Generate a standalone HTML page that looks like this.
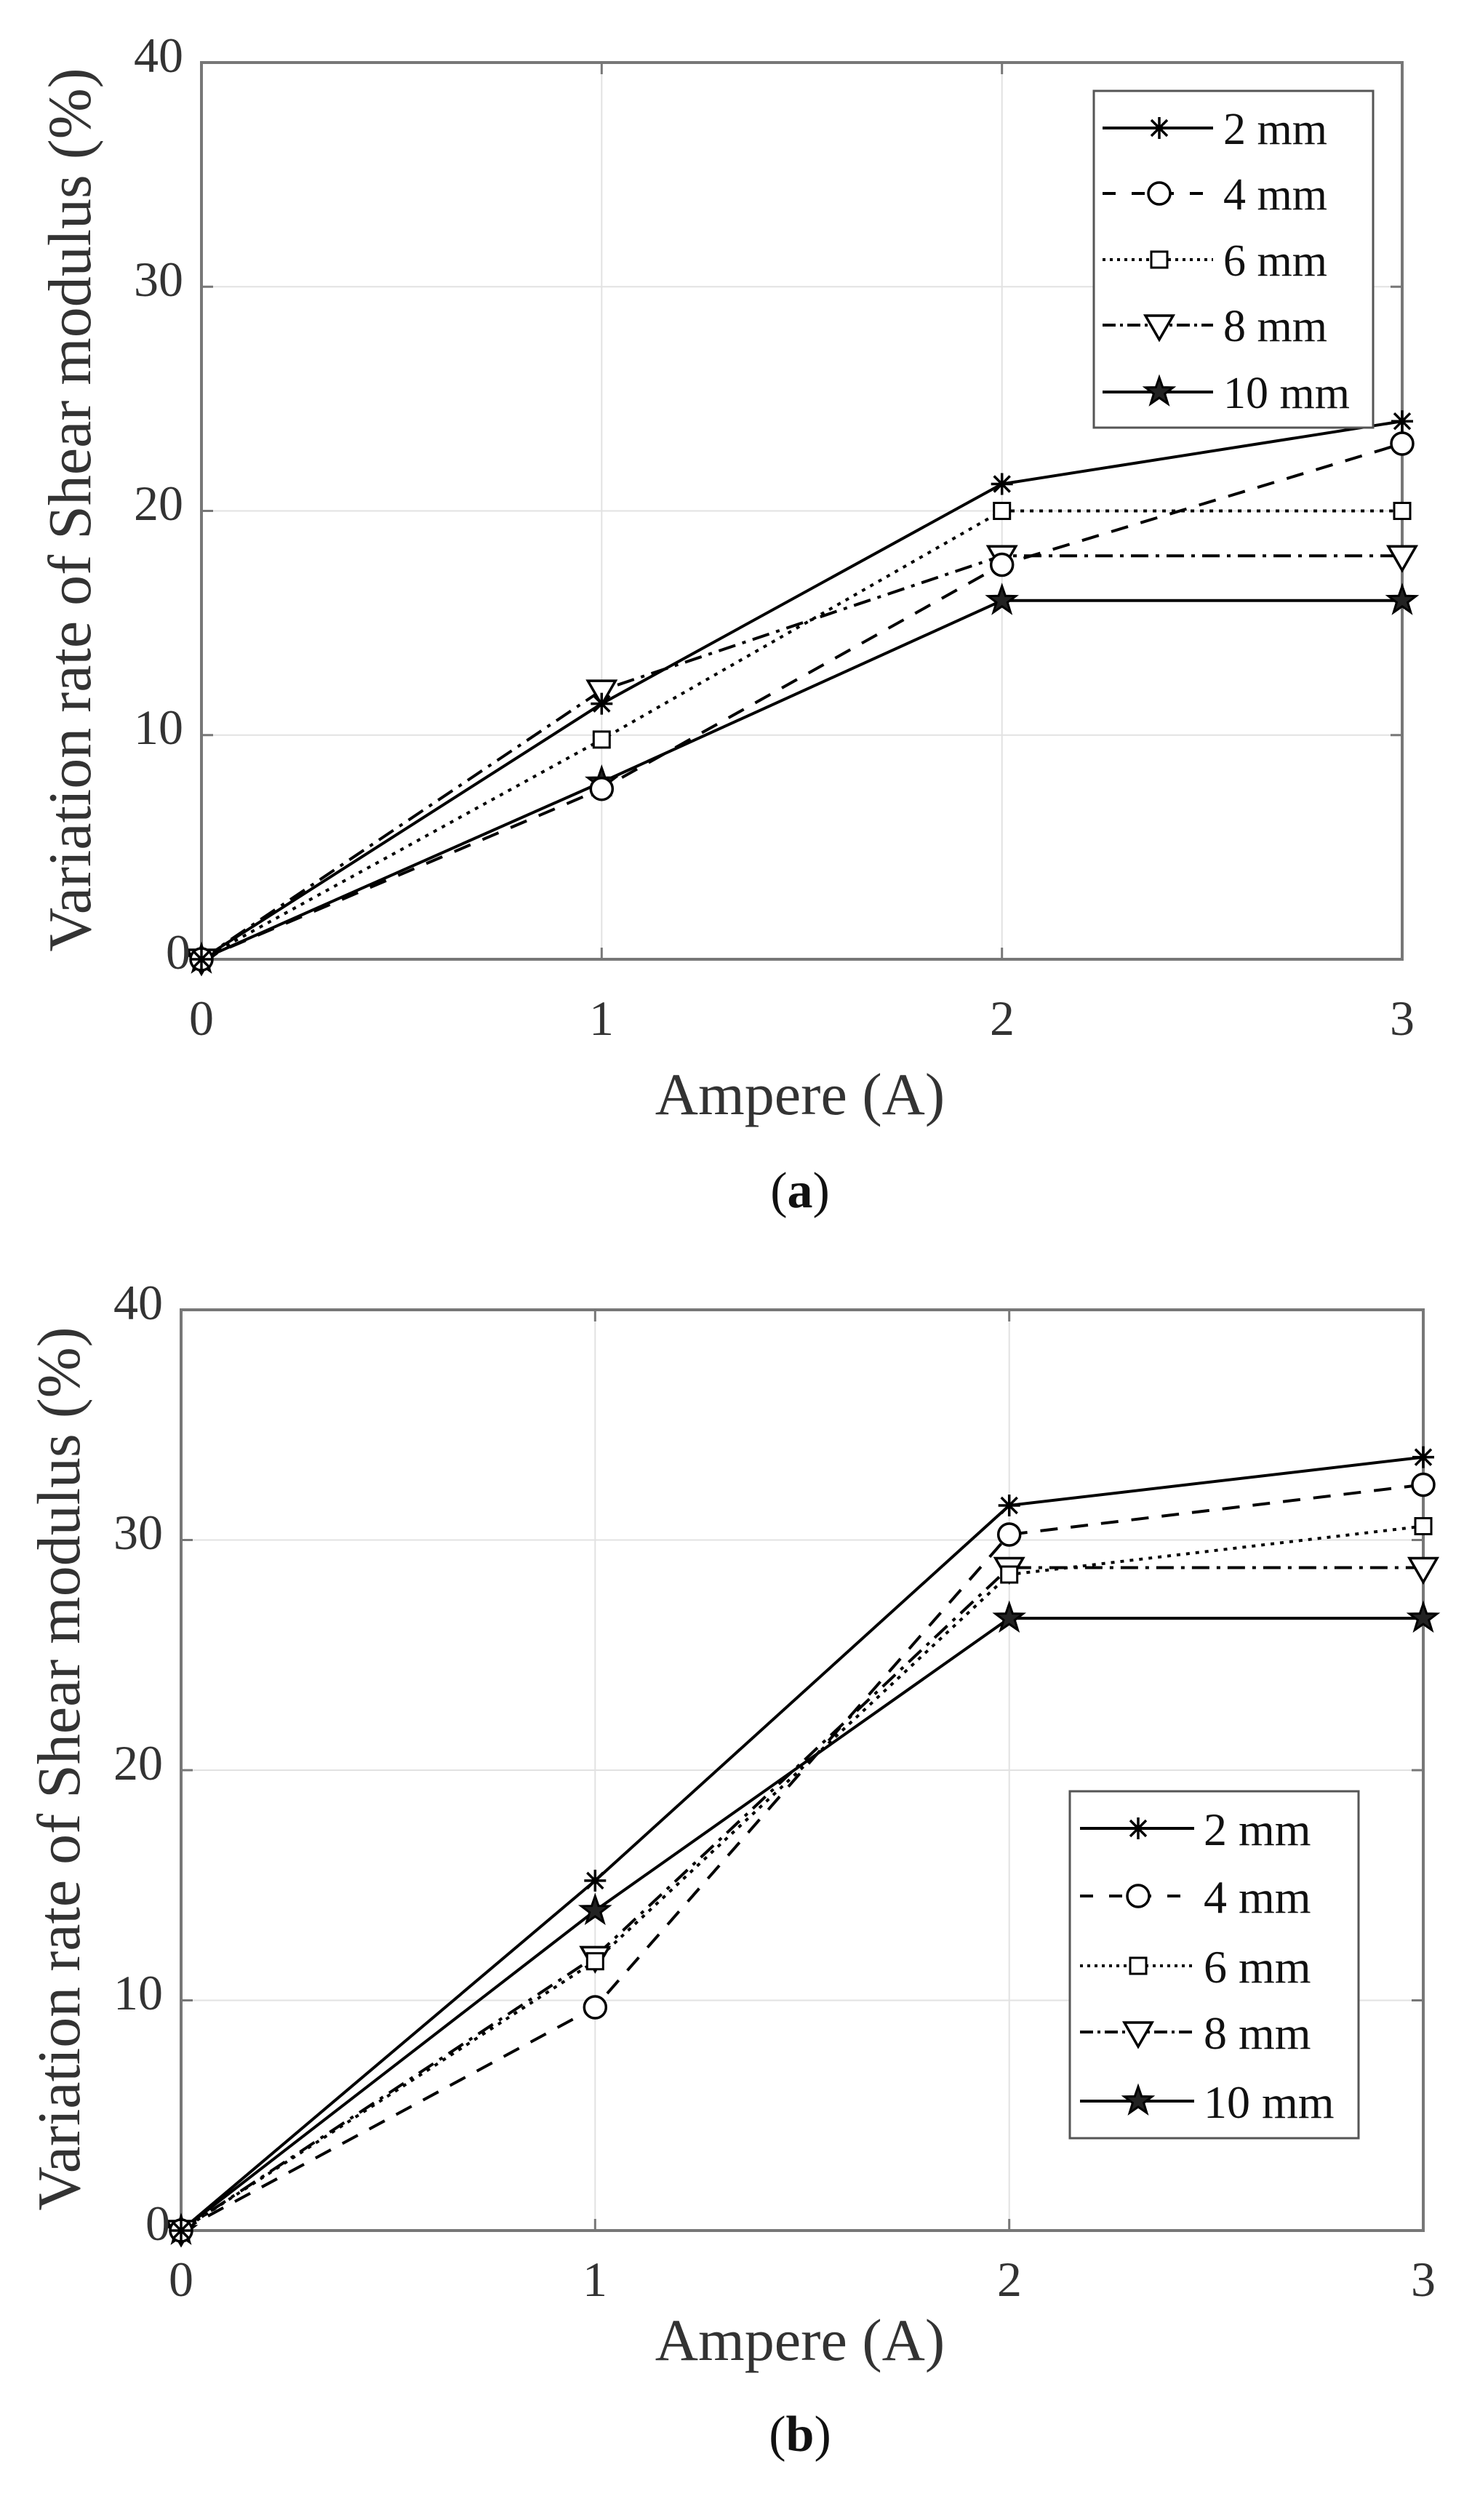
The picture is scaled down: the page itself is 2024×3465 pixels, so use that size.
<!DOCTYPE html>
<html><head><meta charset="utf-8"><style>
html,body{margin:0;padding:0;background:#fff}
svg{display:block}
text{font-family:"Liberation Serif",serif;fill:#333}
</style></head><body>
<svg width="2024" height="3465" viewBox="0 0 2024 3465" xmlns="http://www.w3.org/2000/svg">
<defs>
<g id="ast" stroke="#000" stroke-width="3.5" fill="none"><path d="M-15 0H15M0 -15V15M-11 -11L11 11M-11 11L11 -11"/></g>
<g id="cir"><circle r="15" fill="#fff" stroke="#000" stroke-width="3.5"/></g>
<g id="sq"><rect x="-11" y="-11" width="22" height="22" fill="#fff" stroke="#000" stroke-width="3"/></g>
<g id="tri"><path d="M-19 -13H19L0 20Z" fill="#fff" stroke="#000" stroke-width="3.5"/></g>
<g id="star"><path d="M0 -20L4.7 -6.5 19 -6.2 7.6 2.5 11.8 16.2 0 8 -11.8 16.2 -7.6 2.5 -19 -6.2 -4.7 -6.5Z" fill="#222" stroke="#000" stroke-width="3"/></g>
</defs>

<!-- ================= PANEL A ================= -->
<g stroke="#e2e2e2" stroke-width="2">
<path d="M827.3 86V1319M1377.7 86V1319M277 1010.75H1928M277 702.5H1928M277 394.25H1928"/>
</g>
<rect x="277" y="86" width="1651" height="1233" fill="none" stroke="#777" stroke-width="4"/>
<g stroke="#777" stroke-width="3"><path d="M827.3 1319v-16M1377.7 1319v-16M827.3 86v16M1377.7 86v16M277 1010.75h16M277 702.5h16M277 394.25h16M1928 1010.75h-16M1928 702.5h-16M1928 394.25h-16"/></g>
<g fill="none" stroke="#000" stroke-width="4" stroke-linejoin="round">
<polyline points="277,1319 827.3,1075.5 1377.7,825.8 1928,825.8"/>
<polyline points="277,1319 827.3,949.1 1377.7,764.2 1928,764.2" stroke-dasharray="24 10 5 10"/>
<polyline points="277,1319 827.3,1016.9 1377.7,702.5 1928,702.5" stroke-dasharray="5 8"/>
<polyline points="277,1319 827.3,1084.7 1377.7,776.5 1928,610" stroke-dasharray="24 18"/>
<polyline points="277,1319 827.3,967.6 1377.7,665.5 1928,579.2"/>
</g>
<use href="#star" x="277" y="1319"/><use href="#star" x="827.3" y="1075.5"/><use href="#star" x="1377.7" y="825.8"/><use href="#star" x="1928" y="825.8"/>
<use href="#tri" x="277" y="1319"/><use href="#tri" x="827.3" y="949.1"/><use href="#tri" x="1377.7" y="764.2"/><use href="#tri" x="1928" y="764.2"/>
<use href="#sq" x="277" y="1319"/><use href="#sq" x="827.3" y="1016.9"/><use href="#sq" x="1377.7" y="702.5"/><use href="#sq" x="1928" y="702.5"/>
<use href="#cir" x="277" y="1319"/><use href="#cir" x="827.3" y="1084.7"/><use href="#cir" x="1377.7" y="776.5"/><use href="#cir" x="1928" y="610"/>
<use href="#ast" x="277" y="1319"/><use href="#ast" x="827.3" y="967.6"/><use href="#ast" x="1377.7" y="665.5"/><use href="#ast" x="1928" y="579.2"/>

<!-- legend a -->
<rect x="1504" y="125" width="384" height="463" fill="#fff" stroke="#555" stroke-width="3"/>
<g fill="none" stroke="#000" stroke-width="4">
<path d="M1516 176H1668"/>
<path d="M1516 266H1668" stroke-dasharray="18 22"/>
<path d="M1516 357H1668" stroke-dasharray="4 6"/>
<path d="M1516 447H1668" stroke-dasharray="18 6 4 6"/>
<path d="M1516 539H1668"/>
</g>
<use href="#ast" x="1594" y="176"/><use href="#cir" x="1594" y="266"/><use href="#sq" x="1594" y="357"/><use href="#tri" x="1594" y="447"/><use href="#star" x="1594" y="539"/>
<g font-size="62">
<text x="1682" y="198" style="fill:#111">2 mm</text>
<text x="1682" y="288" style="fill:#111">4 mm</text>
<text x="1682" y="379" style="fill:#111">6 mm</text>
<text x="1682" y="469" style="fill:#111">8 mm</text>
<text x="1682" y="561" style="fill:#111">10 mm</text>
</g>

<g font-size="68" text-anchor="end">
<text x="252" y="99">40</text><text x="252" y="407">30</text><text x="252" y="715">20</text><text x="252" y="1023">10</text><text x="262" y="1332">0</text>
</g>
<g font-size="68" text-anchor="middle">
<text x="277" y="1423">0</text><text x="827" y="1423">1</text><text x="1378" y="1423">2</text><text x="1928" y="1423">3</text>
</g>
<text x="1100" y="1532" font-size="82" text-anchor="middle">Ampere (A)</text>
<text transform="translate(124 701) rotate(-90)" font-size="84" text-anchor="middle">Variation rate of Shear modulus (%)</text>
<text x="1100" y="1660" font-size="70" text-anchor="middle" style="fill:#111">(<tspan font-weight="bold">a</tspan>)</text>

<!-- ================= PANEL B ================= -->
<g stroke="#e2e2e2" stroke-width="2">
<path d="M818.3 1801V3067M1387.7 1801V3067M249 2750.5H1957M249 2434H1957M249 2117.5H1957"/>
</g>
<rect x="249" y="1801" width="1708" height="1266" fill="none" stroke="#777" stroke-width="4"/>
<g stroke="#777" stroke-width="3"><path d="M818.3 3067v-16M1387.7 3067v-16M818.3 1801v16M1387.7 1801v16M249 2750.5h16M249 2434h16M249 2117.5h16M1957 2750.5h-16M1957 2434h-16M1957 2117.5h-16"/></g>
<g fill="none" stroke="#000" stroke-width="4" stroke-linejoin="round">
<polyline points="249,3067 818.3,2627.1 1387.7,2225.1 1957,2225.1"/>
<polyline points="249,3067 818.3,2690.4 1387.7,2155.5 1957,2155.5" stroke-dasharray="24 10 5 10"/>
<polyline points="249,3067 818.3,2696.7 1387.7,2165 1957,2098.5" stroke-dasharray="5 8"/>
<polyline points="249,3067 818.3,2760 1387.7,2110 1957,2041.5" stroke-dasharray="24 18"/>
<polyline points="249,3067 818.3,2585.9 1387.7,2070 1957,2003.6"/>
</g>
<use href="#star" x="249" y="3067"/><use href="#star" x="818.3" y="2627.1"/><use href="#star" x="1387.7" y="2225.1"/><use href="#star" x="1957" y="2225.1"/>
<use href="#tri" x="249" y="3067"/><use href="#tri" x="818.3" y="2690.4"/><use href="#tri" x="1387.7" y="2155.5"/><use href="#tri" x="1957" y="2155.5"/>
<use href="#sq" x="249" y="3067"/><use href="#sq" x="818.3" y="2696.7"/><use href="#sq" x="1387.7" y="2165"/><use href="#sq" x="1957" y="2098.5"/>
<use href="#cir" x="249" y="3067"/><use href="#cir" x="818.3" y="2760"/><use href="#cir" x="1387.7" y="2110"/><use href="#cir" x="1957" y="2041.5"/>
<use href="#ast" x="249" y="3067"/><use href="#ast" x="818.3" y="2585.9"/><use href="#ast" x="1387.7" y="2070"/><use href="#ast" x="1957" y="2003.6"/>

<!-- legend b -->
<rect x="1471" y="2463" width="397" height="477" fill="#fff" stroke="#555" stroke-width="3"/>
<g fill="none" stroke="#000" stroke-width="4">
<path d="M1485 2514H1642"/>
<path d="M1485 2607H1642" stroke-dasharray="18 22"/>
<path d="M1485 2703H1642" stroke-dasharray="4 6"/>
<path d="M1485 2794H1642" stroke-dasharray="18 6 4 6"/>
<path d="M1485 2889H1642"/>
</g>
<use href="#ast" x="1565" y="2514"/><use href="#cir" x="1565" y="2607"/><use href="#sq" x="1565" y="2703"/><use href="#tri" x="1565" y="2794"/><use href="#star" x="1565" y="2889"/>
<g font-size="64">
<text x="1655" y="2537" style="fill:#111">2 mm</text>
<text x="1655" y="2630" style="fill:#111">4 mm</text>
<text x="1655" y="2726" style="fill:#111">6 mm</text>
<text x="1655" y="2817" style="fill:#111">8 mm</text>
<text x="1655" y="2912" style="fill:#111">10 mm</text>
</g>

<g font-size="68" text-anchor="end">
<text x="224" y="1814">40</text><text x="224" y="2130">30</text><text x="224" y="2447">20</text><text x="224" y="2763">10</text><text x="234" y="3080">0</text>
</g>
<g font-size="68" text-anchor="middle">
<text x="249" y="3157">0</text><text x="818" y="3157">1</text><text x="1388" y="3157">2</text><text x="1957" y="3157">3</text>
</g>
<text x="1100" y="3245" font-size="82" text-anchor="middle">Ampere (A)</text>
<text transform="translate(109 2432) rotate(-90)" font-size="84" text-anchor="middle">Variation rate of Shear modulus (%)</text>
<text x="1100" y="3370" font-size="70" text-anchor="middle" style="fill:#111">(<tspan font-weight="bold">b</tspan>)</text>
</svg>
</body></html>
